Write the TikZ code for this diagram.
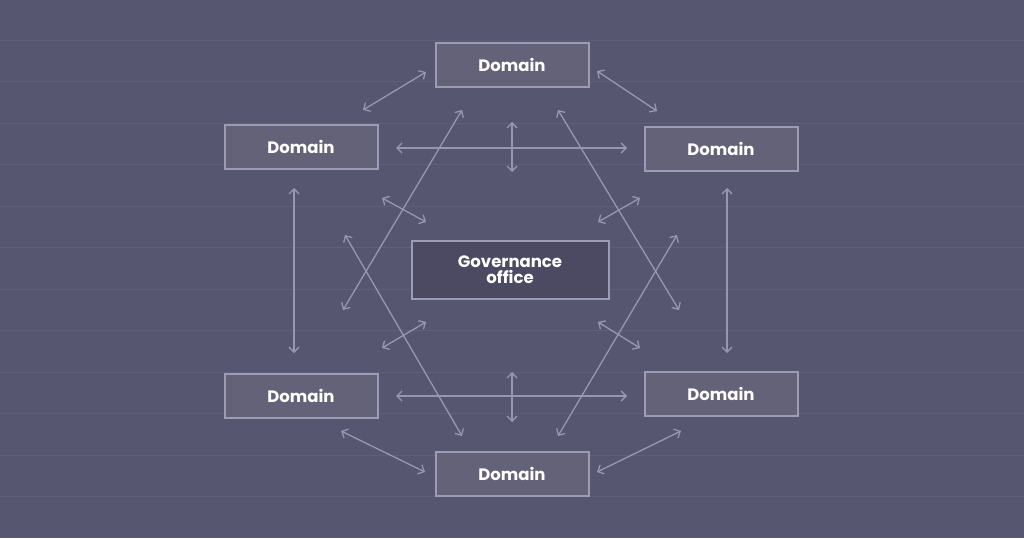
\documentclass[tikz,border=0pt]{standalone}
\usepackage{fontspec}
\setmainfont{Poppins}
\usetikzlibrary{arrows.meta}
\definecolor{bg}{HTML}{575670}
\definecolor{stripe}{HTML}{605F79}
\definecolor{boxf}{HTML}{636278}
\definecolor{govf}{HTML}{4B4A62}
\definecolor{edge}{HTML}{9D9CB5}
\definecolor{arr}{HTML}{9897B3}
\begin{document}
\begin{tikzpicture}[x=1pt,y=-1pt,
  dom/.style={draw=edge,line width=2pt,fill=boxf,minimum width=153pt,minimum height=44pt,inner sep=0pt,text=white,font=\fontsize{16.5}{18}\selectfont\bfseries},
  gov/.style={dom,fill=govf,minimum width=197pt,minimum height=58pt,align=center,font=\fontsize{16.5}{16}\selectfont\bfseries},
  link/.style={draw=arr,line width=1.3pt,{Straight Barb[length=5pt,width=10pt]}-{Straight Barb[length=5pt,width=10pt]}}]
\fill[bg] (0,0) rectangle (1024,538);
\useasboundingbox (0,0) rectangle (1024,538);
\foreach \k in {0,...,11} \draw[stripe,line width=0.8pt] (0,{40+41.5*\k}) -- (1024,{40+41.5*\k});
\node[dom] (t) at (512,65) {Domain};
\node[dom] (ul) at (301,147) {Domain};
\node[dom] (ur) at (721,149) {Domain};
\node[dom] (ll) at (301,396) {Domain};
\node[dom] (lr) at (721,394) {Domain};
\node[dom] (b) at (512,474) {Domain};
\node[gov] (g) at (510,270) {Governance\\office};
\foreach \n/\x/\y in {a1/363/110,a2/426/72,b1/597/71,b2/657/111,c1/396/148,c2/627/148,d1/512/122,d2/512/172,
  e1/343/310,e2/462/110,f1/558/110,f2/679/310,h1/345/235,h2/462/436,i1/677/235,i2/558/436,
  j1/382/198,j2/426/222,k1/640/198,k2/598/222,l1/382/348,l2/426/322,m1/640/348,m2/598/322,
  n1/294/188,n2/294/353,o1/727/188,o2/727/353,p1/396/396,p2/627/396,q1/512/372,q2/512/422,
  r1/341/431,r2/425/472,s1/597/472,s2/681/431}
  \coordinate (\n) at (\x,\y);
\foreach \p in {a,b,c,d,e,f,h,i,j,k,l,m,n,o,p,q,r,s}
  \draw[link] (\p1) -- (\p2);
\end{tikzpicture}
\end{document}
